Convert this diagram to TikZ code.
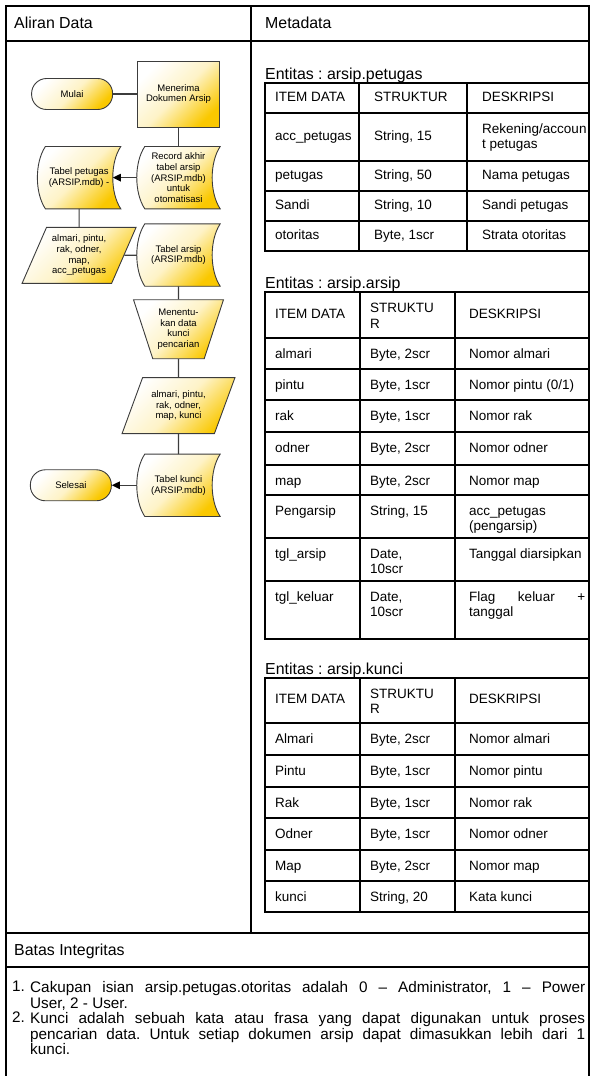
\documentclass[tikz,border=0pt]{standalone}
\usepackage{fontspec}
\setmainfont{Liberation Sans}
\usetikzlibrary{positioning}
\usetikzlibrary{shapes.geometric}
\usetikzlibrary{arrows.meta}
\usetikzlibrary{backgrounds}
\frenchspacing

\definecolor{flowgold}{RGB}{250,200,0}
\definecolor{flowedge}{RGB}{60,60,60}

\begin{document}
\begin{tikzpicture}[x=1pt, y=-1pt]

\tikzset{
    frameline/.style={line width=2pt},
    tabline/.style={line width=1.8pt},
    goldfill/.style={top color=white, bottom color=flowgold, middle color=flowgold!22!white, shading angle=45},
    flowbox/.style={draw=flowedge, line width=0.9pt, goldfill, align=center, inner sep=2pt, font=\fontsize{9.5}{10.7}\selectfont},
    terminal/.style={flowbox, rectangle, rounded corners=15pt, minimum width=81pt, minimum height=31pt},
    process/.style={flowbox, rectangle, minimum width=82pt, minimum height=66pt},
    storage/.style={rectangle, align=center, inner sep=1pt, minimum width=83pt, minimum height=62pt, font=\fontsize{9.5}{10.7}\selectfont},
    dataio/.style={flowbox, trapezium, trapezium left angle=64, trapezium right angle=116, trapezium stretches=true, minimum width=114pt, minimum height=56pt},
    manual/.style={flowbox, trapezium, trapezium angle=69, shape border rotate=180, trapezium stretches=true, minimum width=90pt, minimum height=59pt},
    link/.style={draw=flowedge, line width=1.2pt},
    flowarrow/.style={link, -{Triangle[length=8pt, width=7.5pt, color=black]}},
    heading/.style={anchor=base west, inner sep=0pt, font=\fontsize{15.9}{18}\selectfont},
    cellmid/.style={anchor=west, inner sep=0pt, align=left, font=\fontsize{13.5}{15.5}\selectfont},
    celltop/.style={anchor=north west, inner sep=0pt, align=left, font=\fontsize{13.5}{15.5}\selectfont},
    celldesc/.style={celltop, text width=116pt, align=justify},
    listnum/.style={anchor=north west, inner sep=0pt, font=\fontsize{15.3}{14.6}\selectfont},
    listtext/.style={anchor=north west, inner sep=0pt, text width=555pt, align=justify, font=\fontsize{15.3}{14.6}\selectfont}
}

\useasboundingbox (0,0) rectangle (591,1076);

%%%%%%%%%%%%%%%%%%%%%%%%%%%%%%%%%%%%%%%%%%%%%%%%%%%%%%%%%
%                       Frame                           %
%%%%%%%%%%%%%%%%%%%%%%%%%%%%%%%%%%%%%%%%%%%%%%%%%%%%%%%%%

\draw[frameline] (6,1090) -- (6,6) -- (589,6) -- (589,1090);
\draw[frameline] (6,41) -- (589,41);
\draw[frameline] (251,6) -- (251,933);
\draw[frameline] (6,933) -- (589,933);
\draw[frameline] (6,967) -- (589,967);

\node[heading] (aliran) at (14,28) {Aliran Data};
\node[heading] (meta) at (265,28) {Metadata};
\node[heading] (batas) at (14,955.5) {Batas Integritas};

%%%%%%%%%%%%%%%%%%%%%%%%%%%%%%%%%%%%%%%%%%%%%%%%%%%%%%%%%
%                       Flowchart                       %
%%%%%%%%%%%%%%%%%%%%%%%%%%%%%%%%%%%%%%%%%%%%%%%%%%%%%%%%%

%start
\node[process] (menerima) at (178.5,94) {Menerima\\Dokumen Arsip};
\node[terminal, left=24pt of menerima] (mulai) {Mulai};
\draw[link] (mulai) -- (menerima);

%record
\node[storage, below=19pt of menerima] (record) {Record akhir\\tabel arsip\\(ARSIP.mdb)\\untuk\\otomatisasi};
\draw[link] (menerima) -- (record);

%tabel petugas
\node[storage, left=16pt of record] (petugas) {Tabel petugas\\(ARSIP.mdb) -};
\draw[flowarrow] (record.west) -- ([xshift=-8pt]petugas.east);

%data petugas
\node[dataio, below=18pt of petugas] (inpetugas) {almari, pintu,\\rak, odner,\\map,\\acc\_petugas};
\draw[link] (petugas) -- (inpetugas);

%tabel arsip
\node[storage, below=15pt of record] (arsip) {Tabel arsip\\(ARSIP.mdb)};
\draw[link] (inpetugas) -- (arsip);

%kunci pencarian
\node[manual, below=13pt of arsip] (cari) {Menentu-\\kan data\\kunci\\pencarian};
\draw[link] (arsip) -- (cari);

\node[dataio, below=18pt of cari] (inkunci) {almari, pintu,\\rak, odner,\\map, kunci};
\draw[link] (cari) -- (inkunci);

%tabel kunci
\node[storage, below=20pt of inkunci] (kunci) {Tabel kunci\\(ARSIP.mdb)};
\draw[link] (inkunci) -- (kunci);

%end
\node[terminal, left=25pt of kunci] (selesai) {Selesai};
\draw[flowarrow] (kunci.west) -- (selesai);

%stored data outlines
\begin{scope}[on background layer]
\foreach \sd in {record, petugas, arsip, kunci}
  \draw[draw=flowedge, line width=0.9pt, goldfill]
    ([xshift=8pt]\sd.north west) -- (\sd.north east)
    .. controls ([shift={(-10.7,16)}]\sd.north east) and ([shift={(-10.7,-16)}]\sd.south east) .. (\sd.south east)
    -- ([xshift=8pt]\sd.south west)
    .. controls ([shift={(-2.7,-16)}]\sd.south west) and ([shift={(-2.7,16)}]\sd.north west) .. ([xshift=8pt]\sd.north west)
    -- cycle;
\end{scope}

%%%%%%%%%%%%%%%%%%%%%%%%%%%%%%%%%%%%%%%%%%%%%%%%%%%%%%%%%
%                       Tables                          %
%%%%%%%%%%%%%%%%%%%%%%%%%%%%%%%%%%%%%%%%%%%%%%%%%%%%%%%%%

%arsip.petugas
\node[heading] (entpetugas) at (265,79) {Entitas : arsip.petugas};
\draw[tabline] (265,83) rectangle (589,251);
\foreach \y in {113,161,191,221} \draw[tabline] (265,\y) -- (589,\y);
\foreach \x in {359,467} \draw[tabline] (\x,83) -- (\x,251);
\foreach \yt/\yb/\colA/\colB/\colC [count=\i] in {
    83/113/ITEM DATA/STRUKTUR/DESKRIPSI,
    113/161/acc\_petugas/{String, 15}/{Rekening/accoun\\t petugas},
    161/191/petugas/{String, 50}/Nama petugas,
    191/221/Sandi/{String, 10}/Sandi petugas,
    221/251/otoritas/{Byte, 1scr}/Strata otoritas}{
  \node[cellmid] (pet-\i-a) at (275,{(\yt+\yb)/2}) {\strut\colA};
  \node[cellmid] (pet-\i-b) at (374,{(\yt+\yb)/2}) {\strut\colB};
  \node[cellmid] (pet-\i-c) at (482,{(\yt+\yb)/2}) {\strut\colC};
}

%arsip.arsip
\node[heading] (entarsip) at (265,288) {Entitas : arsip.arsip};
\draw[tabline] (265,292) rectangle (589,639);
\foreach \y in {338,369,400,432,465,495,538,581} \draw[tabline] (265,\y) -- (589,\y);
\foreach \x in {360,455} \draw[tabline] (\x,292) -- (\x,639);
\node[cellmid] (ars-0-a) at (275,315) {\strut ITEM DATA};
\node[cellmid] (ars-0-b) at (370,315) {\strut STRUKTU\\R};
\node[cellmid] (ars-0-c) at (469,315) {\strut DESKRIPSI};
\foreach \yt/\colA/\colB/\colC [count=\i] in {
    338/almari/{Byte, 2scr}/Nomor almari,
    369/pintu/{Byte, 1scr}/{Nomor pintu (0/1)},
    400/rak/{Byte, 1scr}/Nomor rak,
    432/odner/{Byte, 2scr}/Nomor odner,
    465/map/{Byte, 2scr}/Nomor map,
    495/Pengarsip/{String, 15}/{acc\_petugas\\(pengarsip)},
    538/tgl\_arsip/{Date,\\10scr}/Tanggal diarsipkan,
    581/tgl\_keluar/{Date,\\10scr}/{Flag keluar +\linebreak tanggal}}{
  \node[celltop] (ars-\i-a) at (275,{\yt+9}) {\strut\colA};
  \node[celltop] (ars-\i-b) at (370,{\yt+9}) {\strut\colB};
  \node[celldesc] (ars-\i-c) at (469,{\yt+9}) {\strut\colC};
}

%arsip.kunci
\node[heading] (entkunci) at (265,674) {Entitas : arsip.kunci};
\draw[tabline] (265,678) rectangle (589,912);
\foreach \y in {723,755,787,818,850,881} \draw[tabline] (265,\y) -- (589,\y);
\foreach \x in {360,455} \draw[tabline] (\x,678) -- (\x,912);
\node[cellmid] (kun-0-a) at (275,700.5) {\strut ITEM DATA};
\node[cellmid] (kun-0-b) at (370,700.5) {\strut STRUKTU\\R};
\node[cellmid] (kun-0-c) at (469,700.5) {\strut DESKRIPSI};
\foreach \yt/\colA/\colB/\colC [count=\i] in {
    723/Almari/{Byte, 2scr}/Nomor almari,
    755/Pintu/{Byte, 1scr}/Nomor pintu,
    787/Rak/{Byte, 1scr}/Nomor rak,
    818/Odner/{Byte, 1scr}/Nomor odner,
    850/Map/{Byte, 2scr}/Nomor map,
    881/kunci/{String, 20}/Kata kunci}{
  \node[celltop] (kun-\i-a) at (275,{\yt+9}) {\strut\colA};
  \node[celltop] (kun-\i-b) at (370,{\yt+9}) {\strut\colB};
  \node[celldesc] (kun-\i-c) at (469,{\yt+9}) {\strut\colC};
}

%%%%%%%%%%%%%%%%%%%%%%%%%%%%%%%%%%%%%%%%%%%%%%%%%%%%%%%%%
%                       Integrity                       %
%%%%%%%%%%%%%%%%%%%%%%%%%%%%%%%%%%%%%%%%%%%%%%%%%%%%%%%%%

\node[listnum] (num-1) at (12,980.8) {\strut 1.};
\node[listtext] (item-1) at (30,980.8) {\strut Cakupan isian arsip.petugas.otoritas adalah 0 – Administrator, 1 – Power\linebreak User, 2 - User.};
\node[listnum] (num-2) at (12,1011.8) {\strut 2.};
\node[listtext] (item-2) at (30,1011.8) {\strut Kunci adalah sebuah kata atau frasa yang dapat digunakan untuk proses\linebreak pencarian data. Untuk setiap dokumen arsip dapat dimasukkan lebih dari 1\linebreak kunci.};

\end{tikzpicture}
\end{document}
